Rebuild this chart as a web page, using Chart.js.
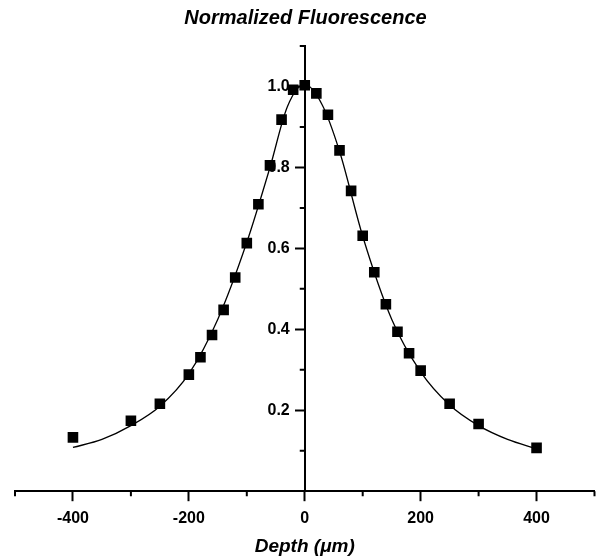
<!DOCTYPE html>
<html>
<head>
<meta charset="utf-8">
<script src="https://cdn.jsdelivr.net/npm/chart.js@4/dist/chart.umd.min.js"></script>
<style>
  html, body { margin: 0; padding: 0; background: #fff; }
  #wrap { width: 602px; height: 558px; }
</style>
</head>
<body>
<div id="wrap"><canvas id="chart" width="602" height="558"></canvas></div>
<script>
  // measured points (depth in um, normalized fluorescence)
  const depths = [-400, -300, -250, -200, -180, -160, -140, -120, -100, -80, -60, -40, -20, 0,
    20, 40, 60, 80, 100, 120, 140, 160, 180, 200, 250, 300, 400];
  const fluorescence = [0.133, 0.174, 0.216, 0.288, 0.331, 0.386, 0.448, 0.528, 0.613, 0.709, 0.805, 0.918, 0.992, 1.003,
    0.983, 0.930, 0.842, 0.742, 0.631, 0.541, 0.462, 0.394, 0.341, 0.298, 0.216, 0.166, 0.107];

  // fitted curve
  const fitDepths = [-400, -350, -300, -250, -200, -150, -100, -60, -30, 0, 30, 60, 100, 150, 200, 250, 300, 350, 400];
  const fitValues = [0.108, 0.128, 0.162, 0.210, 0.290, 0.425, 0.615, 0.800, 0.950, 1.005, 0.955, 0.840, 0.630, 0.425, 0.295, 0.213, 0.162, 0.128, 0.105];

  const xTicks = [-400, -200, 0, 200, 400];
  const xMinorTicks = [-500, -300, -100, 100, 300, 500];
  const yTicks = [0.2, 0.4, 0.6, 0.8, 1.0];
  const yMinorTicks = [0.1, 0.3, 0.5, 0.7, 0.9, 1.1];

  const FONT = '"Liberation Sans", Arial, Helvetica, sans-serif';

  // minor ticks and the y labels, which sit left of the centred axis
  const axisExtras = {
    id: 'axisExtras',
    afterDraw(chart) {
      const { ctx, scales: { x, y } } = chart;
      const x0 = x.getPixelForValue(0);
      const yBase = y.getPixelForValue(0);
      ctx.save();
      ctx.strokeStyle = '#000';
      ctx.lineWidth = 2;
      ctx.beginPath();
      xMinorTicks.forEach((v) => {
        const px = x.getPixelForValue(v);
        ctx.moveTo(px, yBase);
        ctx.lineTo(px, yBase + 5);
      });
      yMinorTicks.forEach((v) => {
        const py = y.getPixelForValue(v);
        ctx.moveTo(x0, py);
        ctx.lineTo(x0 - 5, py);
      });
      ctx.stroke();

      ctx.fillStyle = '#000';
      ctx.font = `bold 16px ${FONT}`;
      ctx.textAlign = 'right';
      ctx.textBaseline = 'middle';
      yTicks.forEach((v) => {
        ctx.fillText(v.toFixed(1), x0 - 15, y.getPixelForValue(v));
      });
      ctx.restore();
    },
  };

  new Chart(document.getElementById('chart'), {
    type: 'scatter',
    data: {
      datasets: [
        {
          label: 'data',
          data: depths.map((d, i) => ({ x: d, y: fluorescence[i] })),
          pointStyle: 'rect',
          pointRadius: 7.5,
          pointBackgroundColor: '#000',
          pointBorderColor: '#000',
          pointBorderWidth: 0,
          order: 0,
        },
        {
          label: 'fit',
          data: fitDepths.map((d, i) => ({ x: d, y: fitValues[i] })),
          showLine: true,
          borderColor: '#000',
          borderWidth: 1.3,
          pointRadius: 0,
          cubicInterpolationMode: 'monotone',
          order: 1,
        },
      ],
    },
    options: {
      responsive: false,
      animation: false,
      layout: { padding: { left: 15, right: 6, top: 0, bottom: 0 } },
      plugins: {
        legend: { display: false },
        tooltip: { enabled: false },
        title: {
          display: true,
          text: 'Normalized Fluorescence',
          color: '#000',
          font: { family: FONT, size: 20, weight: 'bold', style: 'italic' },
          padding: { top: 6, bottom: 16 },
        },
      },
      scales: {
        x: {
          type: 'linear',
          position: 'bottom',
          min: -500,
          max: 500,
          afterBuildTicks: (axis) => { axis.ticks = xTicks.map((v) => ({ value: v })); },
          grid: { drawOnChartArea: false, color: '#000', tickLength: 10, tickWidth: 2 },
          border: { color: '#000', width: 2 },
          ticks: {
            color: '#000',
            padding: 9,
            maxRotation: 0,
            font: { family: FONT, size: 16, weight: 'bold', lineHeight: 1 },
          },
          title: {
            display: true,
            text: 'Depth (μm)',
            color: '#000',
            font: { family: FONT, size: 19, weight: 'bold', style: 'italic' },
            padding: { top: 0, bottom: 0 },
          },
        },
        y: {
          type: 'linear',
          position: { x: 0 },
          min: 0,
          max: 1.1,
          afterBuildTicks: (axis) => { axis.ticks = yTicks.map((v) => ({ value: v })); },
          grid: { drawOnChartArea: false, color: '#000', tickLength: 9, tickWidth: 2 },
          border: { color: '#000', width: 2 },
          ticks: { display: false },
        },
      },
    },
    plugins: [axisExtras],
  });
</script>
</body>
</html>
